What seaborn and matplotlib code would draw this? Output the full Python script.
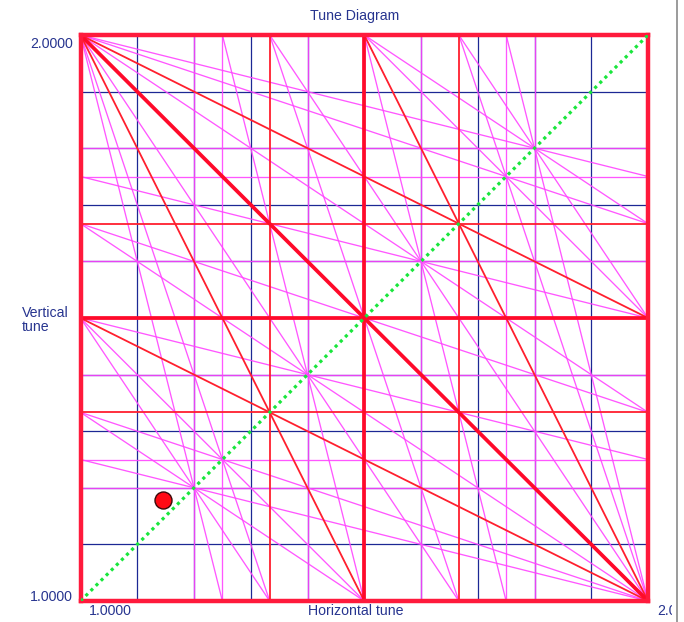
import matplotlib
matplotlib.use("Agg")
import matplotlib.pyplot as plt
from matplotlib.transforms import Bbox, TransformedBbox
from matplotlib.lines import Line2D
import seaborn as sns
import pandas as pd

# Tune range shown on both axes
tune_min, tune_max = 1.0, 2.0

# Sum-resonance coefficient pairs (m, n) for  m*Qx + n*Qy = integer, by order
order_terms = {
    1: [(1, 0), (0, 1)],
    2: [(2, 0), (0, 2), (1, 1)],
    3: [(3, 0), (0, 3), (2, 1), (1, 2)],
    4: [(4, 0), (0, 4), (3, 1), (1, 3), (2, 2)],
    5: [(5, 0), (0, 5), (4, 1), (1, 4), (3, 2), (2, 3)],
}

# Background tune grid
grid_ticks = [1.1, 1.2, 1.3, 1.4, 1.5, 1.6, 1.7, 1.8, 1.9]

# Working point
work_qx = [1.146]
work_qy = [1.178]

# Coupling line Qx = Qy
coupling_q = [1.0, 2.0]

styles = {
    5: dict(color="#ff45ff", lw=0.95, alpha=0.9),
    4: dict(color="#ff45ff", lw=0.95, alpha=0.9),
    3: dict(color="#ff1f2e", lw=1.3, alpha=1.0),
    2: dict(color="#ff0a2a", lw=2.7, alpha=1.0),
    1: dict(color="#ff0a2a", lw=2.7, alpha=1.0),
}

text_color = "#27348f"


def segment(m, n, p, lo, hi, eps=1e-9):
    """End points of m*x + n*y = p inside the square [lo, hi]^2."""
    if n == 0:
        x = p / m
        return [(x, lo), (x, hi)] if lo - eps <= x <= hi + eps else None
    if m == 0:
        y = p / n
        return [(lo, y), (hi, y)] if lo - eps <= y <= hi + eps else None
    pts = []
    for x in (lo, hi):
        y = (p - m * x) / n
        if lo - eps <= y <= hi + eps:
            pts.append((x, y))
    for y in (lo, hi):
        x = (p - n * y) / m
        if lo - eps <= x <= hi + eps:
            pts.append((x, y))
    uniq = []
    for q in pts:
        if all(abs(q[0] - u[0]) > 1e-7 or abs(q[1] - u[1]) > 1e-7 for u in uniq):
            uniq.append(q)
    if len(uniq) < 2:
        return None
    uniq.sort()
    return [uniq[0], uniq[-1]]


rows = []
line_id = 0
for order, terms in order_terms.items():
    for m, n in terms:
        for p in range(m + n, 2 * (m + n) + 1):
            seg = segment(m, n, p, tune_min, tune_max)
            if seg is None:
                continue
            for k, (x, y) in enumerate(seg):
                rows.append(dict(order=order, line=line_id, pt=k, qx=x, qy=y))
            line_id += 1
lines_df = pd.DataFrame(rows)

sns.set_theme(style="white")
plt.rcParams["font.family"] = ["Liberation Sans", "DejaVu Sans"]

W, H = 684, 622
fig = plt.figure(figsize=(W / 100, H / 100), dpi=100)
fig.patch.set_facecolor("white")
ax = fig.add_axes([80.5 / W, 1 - 601 / H, 567.5 / W, 566 / H])
ax.set_facecolor("white")

ax.set_xlim(tune_min, tune_max)
ax.set_ylim(tune_min, tune_max)
ax.set_xticks(grid_ticks)
ax.set_yticks(grid_ticks)
ax.tick_params(length=0, labelbottom=False, labelleft=False)
ax.grid(True, color="#1c2894", lw=0.9)
ax.set_axisbelow(True)

for order in (5, 4, 3, 2, 1):
    sub = lines_df[lines_df["order"] == order]
    st = styles[order]
    sns.lineplot(data=sub, x="qx", y="qy", units="line", estimator=None,
                 sort=False, color=st["color"], lw=st["lw"], alpha=st["alpha"],
                 ax=ax, legend=False, zorder=2 + 0.1 * (6 - order))

sns.lineplot(x=coupling_q, y=coupling_q, ax=ax, color="#19e63c", lw=2.3,
             linestyle=(0, (1.0, 1.25)), zorder=4, legend=False)

sns.scatterplot(x=work_qx, y=work_qy, ax=ax, s=150, color="#ff0a14",
                edgecolor="#3a0a0a", linewidth=1.0, zorder=5, legend=False)

ax.set_xlabel("")
ax.set_ylabel("")
for sp in ax.spines.values():
    sp.set_color("#ff1a3c")
    sp.set_linewidth(3.2)
    sp.set_visible(True)


def px(x, y):
    return x / W, 1 - y / H


fs = 10.2
fig.text(*px(355, 16), "Tune Diagram", ha="center", va="center",
         fontsize=fs, color=text_color)
fig.text(*px(73, 44), "2.0000", ha="right", va="center",
         fontsize=fs, color=text_color)
fig.text(*px(73, 597), "1.0000", ha="right", va="center",
         fontsize=fs, color=text_color)
fig.text(*px(22, 320), "Vertical\ntune", ha="left", va="center",
         fontsize=fs, color=text_color, linespacing=1.05)
fig.text(*px(89, 611), "1.0000", ha="left", va="center",
         fontsize=fs, color=text_color)
fig.text(*px(356, 611), "Horizontal tune", ha="center", va="center",
         fontsize=fs, color=text_color)
t_end = fig.text(*px(657, 611), "2.0000", ha="left", va="center",
                 fontsize=fs, color=text_color)
t_end.set_clip_box(TransformedBbox(Bbox([[0, 0], [672 / W, 1]]), fig.transFigure))
t_end.set_clip_on(True)

# panel separator on the right
fig.add_artist(Line2D([677 / W, 677 / W], [0, 1], transform=fig.transFigure,
                      color="#8a8a8a", lw=1.2))

fig.savefig("out.png", dpi=100)
